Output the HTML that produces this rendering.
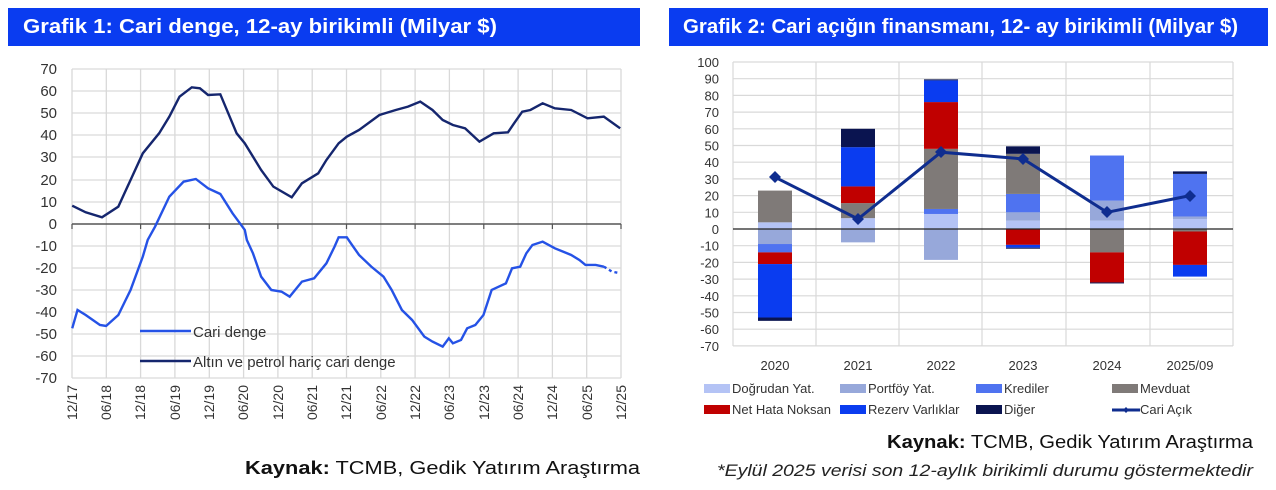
<!DOCTYPE html>
<html><head><meta charset="utf-8"><style>
body{margin:0;width:1276px;height:490px;background:#fff;overflow:hidden;font-family:"Liberation Sans",sans-serif}
svg{position:absolute;left:0;top:0}
</style></head><body>
<svg width="1276" height="490" viewBox="0 0 1276 490" font-family="Liberation Sans, sans-serif">
<rect x="8" y="8" width="632" height="38" fill="#0a3cf0"/>
<text x="23" y="33" fill="#fff" font-size="20" font-weight="bold" textLength="474" lengthAdjust="spacingAndGlyphs">Grafik 1: Cari denge, 12-ay birikimli (Milyar $)</text>
<rect x="669" y="8" width="599" height="38" fill="#0a3cf0"/>
<text x="683" y="33" fill="#fff" font-size="20" font-weight="bold" textLength="555" lengthAdjust="spacingAndGlyphs">Grafik 2: Cari açığın finansmanı, 12- ay birikimli (Milyar $)</text>

<g stroke="#d9d9d9" stroke-width="1.3">
<line x1="72" y1="69" x2="621" y2="69"/><line x1="72" y1="91" x2="621" y2="91"/><line x1="72" y1="113" x2="621" y2="113"/><line x1="72" y1="135" x2="621" y2="135"/><line x1="72" y1="157" x2="621" y2="157"/><line x1="72" y1="180" x2="621" y2="180"/><line x1="72" y1="202" x2="621" y2="202"/>
<line x1="72" y1="246" x2="621" y2="246"/><line x1="72" y1="268" x2="621" y2="268"/><line x1="72" y1="290" x2="621" y2="290"/><line x1="72" y1="312" x2="621" y2="312"/><line x1="72" y1="334" x2="621" y2="334"/><line x1="72" y1="356" x2="621" y2="356"/><line x1="72" y1="378" x2="621" y2="378"/>
<line x1="72" y1="69" x2="72" y2="378"/><line x1="106.3" y1="69" x2="106.3" y2="378"/><line x1="140.6" y1="69" x2="140.6" y2="378"/><line x1="174.9" y1="69" x2="174.9" y2="378"/><line x1="209.3" y1="69" x2="209.3" y2="378"/><line x1="243.6" y1="69" x2="243.6" y2="378"/><line x1="277.9" y1="69" x2="277.9" y2="378"/><line x1="312.2" y1="69" x2="312.2" y2="378"/><line x1="346.5" y1="69" x2="346.5" y2="378"/><line x1="380.8" y1="69" x2="380.8" y2="378"/><line x1="415.1" y1="69" x2="415.1" y2="378"/><line x1="449.4" y1="69" x2="449.4" y2="378"/><line x1="483.8" y1="69" x2="483.8" y2="378"/><line x1="518.1" y1="69" x2="518.1" y2="378"/><line x1="552.4" y1="69" x2="552.4" y2="378"/><line x1="586.7" y1="69" x2="586.7" y2="378"/><line x1="621" y1="69" x2="621" y2="378"/>
</g>
<line x1="72" y1="224" x2="621" y2="224" stroke="#555" stroke-width="1.5"/>
<g stroke="#555" stroke-width="1.2"><line x1="72" y1="224" x2="72" y2="229"/><line x1="140.6" y1="224" x2="140.6" y2="229"/><line x1="209.3" y1="224" x2="209.3" y2="229"/><line x1="277.9" y1="224" x2="277.9" y2="229"/><line x1="346.5" y1="224" x2="346.5" y2="229"/><line x1="415.1" y1="224" x2="415.1" y2="229"/><line x1="483.8" y1="224" x2="483.8" y2="229"/><line x1="552.4" y1="224" x2="552.4" y2="229"/><line x1="621" y1="224" x2="621" y2="229"/></g>
<g font-size="15" fill="#333" text-anchor="end">
<text x="57" y="74">70</text><text x="57" y="96">60</text><text x="57" y="118">50</text><text x="57" y="140">40</text><text x="57" y="162">30</text><text x="57" y="185">20</text><text x="57" y="207">10</text><text x="57" y="229">0</text><text x="57" y="251">-10</text><text x="57" y="273">-20</text><text x="57" y="295">-30</text><text x="57" y="317">-40</text><text x="57" y="339">-50</text><text x="57" y="361">-60</text><text x="57" y="383">-70</text>
</g>
<g font-size="14" fill="#333" text-anchor="end">
<text transform="translate(77,385) rotate(-90)">12/17</text><text transform="translate(111,385) rotate(-90)">06/18</text><text transform="translate(145,385) rotate(-90)">12/18</text><text transform="translate(180,385) rotate(-90)">06/19</text><text transform="translate(214,385) rotate(-90)">12/19</text><text transform="translate(248,385) rotate(-90)">06/20</text><text transform="translate(283,385) rotate(-90)">12/20</text><text transform="translate(317,385) rotate(-90)">06/21</text><text transform="translate(351,385) rotate(-90)">12/21</text><text transform="translate(386,385) rotate(-90)">06/22</text><text transform="translate(420,385) rotate(-90)">12/22</text><text transform="translate(454,385) rotate(-90)">06/23</text><text transform="translate(489,385) rotate(-90)">12/23</text><text transform="translate(523,385) rotate(-90)">06/24</text><text transform="translate(557,385) rotate(-90)">12/24</text><text transform="translate(592,385) rotate(-90)">06/25</text><text transform="translate(626,385) rotate(-90)">12/25</text>
</g>
<g transform="scale(0.408,0.3333)">
<polyline vector-effect="non-scaling-stroke" fill="none" stroke="#15266e" stroke-width="2.4" points="177,617 210,637 250,652 290,620 320,540 350,460 390,400 415,350 440,290 470,262 490,265 510,285 540,283 580,400 600,430 640,510 670,560 715,592 740,550 780,520 800,480 830,430 850,410 880,390 930,345 970,330 1000,320 1030,305 1060,330 1085,360 1110,375 1140,385 1175,425 1210,400 1245,397 1260,370 1280,335 1300,330 1330,310 1360,325 1400,330 1440,355 1480,350 1520,385"/>
<polyline vector-effect="non-scaling-stroke" fill="none" stroke="#2552e6" stroke-width="2.4" points="177,985 190,930 210,945 245,975 260,978 290,945 320,870 350,770 362,720 380,680 415,590 450,545 480,537 510,565 540,582 570,640 600,690 605,720 620,760 640,830 665,870 690,875 710,890 740,845 770,835 800,790 820,740 830,712 850,712 860,730 880,765 910,800 940,830 960,870 985,930 1010,960 1040,1010 1060,1025 1085,1040 1100,1015 1110,1030 1130,1020 1145,985 1165,975 1185,945 1205,870 1240,850 1255,805 1275,800 1290,760 1305,735 1330,725 1360,745 1380,755 1400,765 1420,780 1435,795 1460,795 1480,800"/>
<polyline vector-effect="non-scaling-stroke" fill="none" stroke="#2552e6" stroke-width="2.4" stroke-dasharray="3,3" points="1480,800 1500,815 1520,820"/>
</g>
<line x1="140" y1="331" x2="191" y2="331" stroke="#2552e6" stroke-width="2.4"/>
<text x="193" y="337" font-size="15" fill="#333">Cari denge</text>
<line x1="140" y1="361" x2="191" y2="361" stroke="#15266e" stroke-width="2.4"/>
<text x="193" y="367" font-size="15" fill="#333">Altın ve petrol hariç cari denge</text>
<text x="640" y="474" font-size="18" fill="#111" text-anchor="end" textLength="395" lengthAdjust="spacingAndGlyphs"><tspan font-weight="bold">Kaynak:</tspan> TCMB, Gedik Yatırım Araştırma</text>

<g stroke="#d9d9d9" stroke-width="1.2">
<line x1="733" y1="62" x2="1233" y2="62"/><line x1="733" y1="78.7" x2="1233" y2="78.7"/><line x1="733" y1="95.4" x2="1233" y2="95.4"/><line x1="733" y1="112.1" x2="1233" y2="112.1"/><line x1="733" y1="128.8" x2="1233" y2="128.8"/><line x1="733" y1="145.5" x2="1233" y2="145.5"/><line x1="733" y1="162.2" x2="1233" y2="162.2"/><line x1="733" y1="178.9" x2="1233" y2="178.9"/><line x1="733" y1="195.6" x2="1233" y2="195.6"/><line x1="733" y1="212.3" x2="1233" y2="212.3"/>
<line x1="733" y1="245.7" x2="1233" y2="245.7"/><line x1="733" y1="262.4" x2="1233" y2="262.4"/><line x1="733" y1="279.1" x2="1233" y2="279.1"/><line x1="733" y1="295.8" x2="1233" y2="295.8"/><line x1="733" y1="312.5" x2="1233" y2="312.5"/><line x1="733" y1="329.2" x2="1233" y2="329.2"/><line x1="733" y1="345.9" x2="1233" y2="345.9"/>
<line x1="733" y1="62" x2="733" y2="346"/><line x1="816" y1="62" x2="816" y2="346"/><line x1="899" y1="62" x2="899" y2="346"/><line x1="982" y1="62" x2="982" y2="346"/><line x1="1066" y1="62" x2="1066" y2="346"/><line x1="1150" y1="62" x2="1150" y2="346"/><line x1="1233" y1="62" x2="1233" y2="346"/>
</g>
<g font-size="13" fill="#333" text-anchor="end">
<text x="719" y="67">100</text><text x="719" y="83.7">90</text><text x="719" y="100.4">80</text><text x="719" y="117.1">70</text><text x="719" y="133.8">60</text><text x="719" y="150.5">50</text><text x="719" y="167.2">40</text><text x="719" y="183.9">30</text><text x="719" y="200.6">20</text><text x="719" y="217.3">10</text><text x="719" y="234">0</text><text x="719" y="250.7">-10</text><text x="719" y="267.4">-20</text><text x="719" y="284.1">-30</text><text x="719" y="300.8">-40</text><text x="719" y="317.5">-50</text><text x="719" y="334.2">-60</text><text x="719" y="350.9">-70</text>
</g>
<g transform="translate(0,229) scale(1,-1.67)">
<rect x="758" y="0" width="34" height="4" fill="#b4c3f5"/><rect x="758" y="4" width="34" height="19" fill="#7f7a78"/>
<rect x="758" y="-9" width="34" height="9" fill="#97a8da"/><rect x="758" y="-14" width="34" height="5" fill="#4f73f0"/><rect x="758" y="-21" width="34" height="7" fill="#c00000"/><rect x="758" y="-53" width="34" height="32" fill="#0a3cf0"/><rect x="758" y="-55" width="34" height="2" fill="#0a1450"/>
<rect x="841" y="0" width="34" height="6.5" fill="#b4c3f5"/><rect x="841" y="6.5" width="34" height="9" fill="#7f7a78"/><rect x="841" y="15.5" width="34" height="10" fill="#c00000"/><rect x="841" y="25.5" width="34" height="23.5" fill="#0a3cf0"/><rect x="841" y="49" width="34" height="11" fill="#0a1450"/>
<rect x="841" y="-8" width="34" height="8" fill="#97a8da"/>
<rect x="924" y="0" width="34" height="9" fill="#b4c3f5"/><rect x="924" y="9" width="34" height="3" fill="#4f73f0"/><rect x="924" y="12" width="34" height="36" fill="#7f7a78"/><rect x="924" y="48" width="34" height="28" fill="#c00000"/><rect x="924" y="76" width="34" height="13" fill="#0a3cf0"/><rect x="924" y="89" width="34" height="0.6" fill="#0a1450"/>
<rect x="924" y="-18.5" width="34" height="18.5" fill="#97a8da"/>
<rect x="1006" y="0" width="34" height="5" fill="#b4c3f5"/><rect x="1006" y="5" width="34" height="5" fill="#97a8da"/><rect x="1006" y="10" width="34" height="11" fill="#4f73f0"/><rect x="1006" y="21" width="34" height="24" fill="#7f7a78"/><rect x="1006" y="45" width="34" height="4.5" fill="#0a1450"/>
<rect x="1006" y="-9.5" width="34" height="9.5" fill="#c00000"/><rect x="1006" y="-11.2" width="34" height="1.7" fill="#0a3cf0"/><rect x="1006" y="-11.8" width="34" height="0.6" fill="#0a1450"/>
<rect x="1090" y="0" width="34" height="5" fill="#b4c3f5"/><rect x="1090" y="5" width="34" height="12" fill="#97a8da"/><rect x="1090" y="17" width="34" height="27" fill="#4f73f0"/>
<rect x="1090" y="-14" width="34" height="14" fill="#7f7a78"/><rect x="1090" y="-32" width="34" height="18" fill="#c00000"/><rect x="1090" y="-32.6" width="34" height="0.6" fill="#0a1450"/>
<rect x="1173" y="0" width="34" height="6" fill="#b4c3f5"/><rect x="1173" y="6" width="34" height="1.5" fill="#97a8da"/><rect x="1173" y="7.5" width="34" height="25.5" fill="#4f73f0"/><rect x="1173" y="33" width="34" height="1.5" fill="#0a1450"/>
<rect x="1173" y="-1.5" width="34" height="1.5" fill="#7f7a78"/><rect x="1173" y="-21.5" width="34" height="20" fill="#c00000"/><rect x="1173" y="-28.5" width="34" height="7" fill="#0a3cf0"/>
</g>
<line x1="733" y1="229" x2="1233" y2="229" stroke="#222" stroke-width="1.2"/>
<polyline fill="none" stroke="#0f2d8f" stroke-width="3" points="775,177.2 858,219 941,152.2 1023,158.9 1107,212.3 1190,195.6"/>
<g fill="#0f2d8f">
<path d="M775,171 l6,6 l-6,6 l-6,-6z"/><path d="M858,213 l6,6 l-6,6 l-6,-6z"/><path d="M941,146 l6,6 l-6,6 l-6,-6z"/><path d="M1023,153 l6,6 l-6,6 l-6,-6z"/><path d="M1107,206 l6,6 l-6,6 l-6,-6z"/><path d="M1190,190 l6,6 l-6,6 l-6,-6z"/>
</g>
<g font-size="13" fill="#333" text-anchor="middle">
<text x="775" y="370">2020</text><text x="858" y="370">2021</text><text x="941" y="370">2022</text><text x="1023" y="370">2023</text><text x="1107" y="370">2024</text><text x="1190" y="370">2025/09</text>
</g>
<g font-size="13" fill="#333">
<rect x="704" y="384" width="26" height="9" fill="#b4c3f5"/><text x="732" y="393">Doğrudan Yat.</text>
<rect x="840" y="384" width="26" height="9" fill="#97a8da"/><text x="868" y="393">Portföy Yat.</text>
<rect x="976" y="384" width="26" height="9" fill="#4f73f0"/><text x="1004" y="393">Krediler</text>
<rect x="1112" y="384" width="26" height="9" fill="#7f7a78"/><text x="1140" y="393">Mevduat</text>
<rect x="704" y="405" width="26" height="9" fill="#c00000"/><text x="732" y="414">Net Hata Noksan</text>
<rect x="840" y="405" width="26" height="9" fill="#0a3cf0"/><text x="868" y="414">Rezerv Varlıklar</text>
<rect x="976" y="405" width="26" height="9" fill="#0a1450"/><text x="1004" y="414">Diğer</text>
<line x1="1112" y1="410" x2="1140" y2="410" stroke="#0f2d8f" stroke-width="3"/><path d="M1126,407 l3,3 l-3,3 l-3,-3z" fill="#0f2d8f"/><text x="1140" y="414">Cari Açık</text>
</g>
<text x="1253" y="448" font-size="18" fill="#111" text-anchor="end" textLength="366" lengthAdjust="spacingAndGlyphs"><tspan font-weight="bold">Kaynak:</tspan> TCMB, Gedik Yatırım Araştırma</text>
<text x="1253" y="476" font-size="17" fill="#222" font-style="italic" text-anchor="end" textLength="536" lengthAdjust="spacingAndGlyphs">*Eylül 2025 verisi son 12-aylık birikimli durumu göstermektedir</text>
</svg>
</body></html>
